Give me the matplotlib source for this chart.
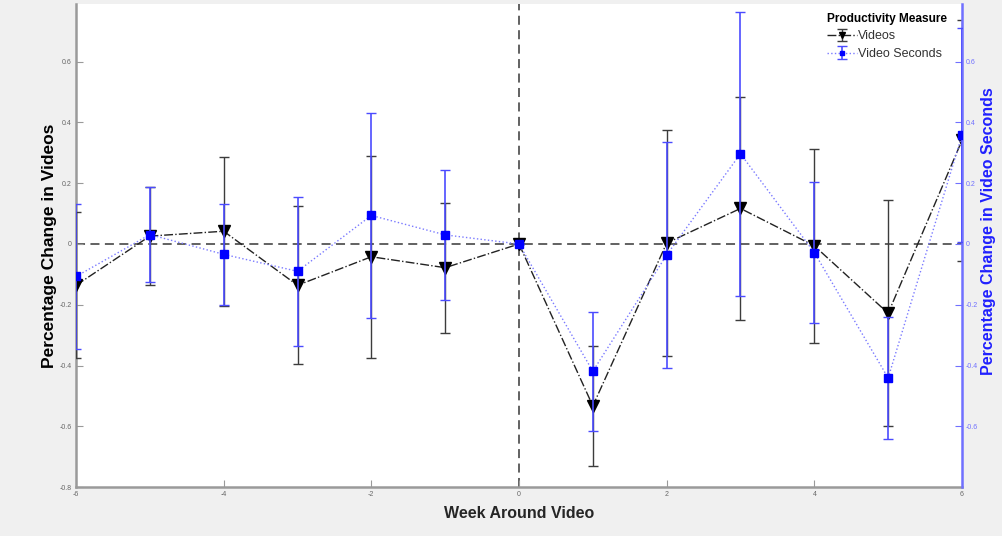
import numpy as np
import matplotlib.pyplot as plt
import matplotlib as mpl

mpl.rcParams.update({'font.family': ['Liberation Sans', 'DejaVu Sans']})

# event-study estimates
weeks = np.arange(-6, 7)
videos = [-0.136, 0.026, 0.042, -0.136, -0.042, -0.078, 0.0,
          -0.533, 0.003, 0.117, -0.006, -0.228, 0.341]
videos_err = [0.240, 0.160, 0.245, 0.260, 0.333, 0.214, 0.0,
              0.197, 0.372, 0.366, 0.319, 0.372, 0.398]
seconds = [-0.107, 0.031, -0.034, -0.090, 0.094, 0.030, 0.0,
           -0.419, -0.036, 0.297, -0.028, -0.441, 0.358]
seconds_err = [0.238, 0.155, 0.166, 0.246, 0.338, 0.213, 0.0,
               0.196, 0.372, 0.467, 0.231, 0.200, 0.352]

xticks = [-6, -4, -2, 0, 2, 4, 6]
yticks_left = [-0.8, -0.6, -0.4, -0.2, 0, 0.2, 0.4, 0.6]
yticks_right = [-0.6, -0.4, -0.2, 0, 0.2, 0.4, 0.6]
ylim = (-0.8, 0.79)

gray = '#9a9a9a'
blue_axis = '#7070ff'

fig = plt.figure(figsize=(10.03, 5.36), dpi=100, facecolor='#f0f0f0')
ax = fig.add_axes([0.0758, 0.0914, 0.8833, 0.9011])
ax2 = ax.twinx()

ax.axhline(0, color='#555555', ls='--', lw=1.3, dashes=(5, 3), zorder=1)
ax.axvline(0, color='#555555', ls='--', lw=1.3, dashes=(5, 3), zorder=1)

h1 = ax.errorbar(weeks, videos, yerr=videos_err, fmt='-.', color='#222222', lw=1.0,
                 marker='v', ms=8, mfc='black', mec='black',
                 ecolor='#3c3c3c', elinewidth=1.0, capsize=3.5, capthick=1.0, zorder=3)
h2 = ax2.errorbar(weeks, seconds, yerr=seconds_err, fmt=':', color='#7a7aff', lw=1.0,
                  marker='s', ms=6, mfc='#0000ff', mec='#0000ff',
                  ecolor='#4b4bff', elinewidth=1.2, capsize=3.5, capthick=1.0, zorder=3)

for a in (ax, ax2):
    a.set_xlim(-6, 6)
    a.set_ylim(*ylim)
    a.spines['top'].set_visible(False)

ax.set_xticks(xticks, [str(t) for t in xticks])
ax.set_yticks(yticks_left, [f'{t:g}' for t in yticks_left])
ax2.set_yticks(yticks_right, [f'{t:g}' for t in yticks_right])

ax.tick_params(direction='in', length=5, width=0.8, labelsize=5, colors='#666666', pad=3)
ax.tick_params(axis='both', color=gray)
ax2.tick_params(direction='in', length=5, width=0.8, labelsize=5, colors=blue_axis, pad=3)

ax.spines['left'].set_color(gray)
ax.spines['left'].set_linewidth(1.8)
ax.spines['bottom'].set_color(gray)
ax.spines['bottom'].set_linewidth(1.8)
ax.spines['right'].set_visible(False)
ax2.spines['left'].set_visible(False)
ax2.spines['bottom'].set_visible(False)
ax2.spines['right'].set_color(blue_axis)
ax2.spines['right'].set_linewidth(1.8)

ax.set_xlabel('Week Around Video', fontsize=11.5, fontweight='bold', color='#262626')
ax.xaxis.set_label_coords(0.5, -0.04)
ax.set_ylabel('Percentage Change in Videos', fontsize=12.5, fontweight='bold', color='black')
ax.yaxis.set_label_coords(-0.022, 0.5)
ax2.set_ylabel('Percentage Change in Video Seconds', fontsize=11.5, fontweight='bold', color='#2020ff')
ax2.yaxis.set_label_coords(1.022, 0.53)

leg = ax2.legend([h1, h2], ['Videos', 'Video Seconds'], title='Productivity Measure',
                 loc='upper right', bbox_to_anchor=(0.993, 1.0), frameon=False,
                 fontsize=9, title_fontproperties={'weight': 'bold', 'size': 8.6},
                 handlelength=2.4, handletextpad=0.1, borderaxespad=0.3, labelspacing=0.45,
                 markerscale=0.6)
leg._legend_box.align = 'left'
for t in leg.get_texts():
    t.set_color('#333333')

fig.savefig('out.png', dpi=100, facecolor=fig.get_facecolor())
